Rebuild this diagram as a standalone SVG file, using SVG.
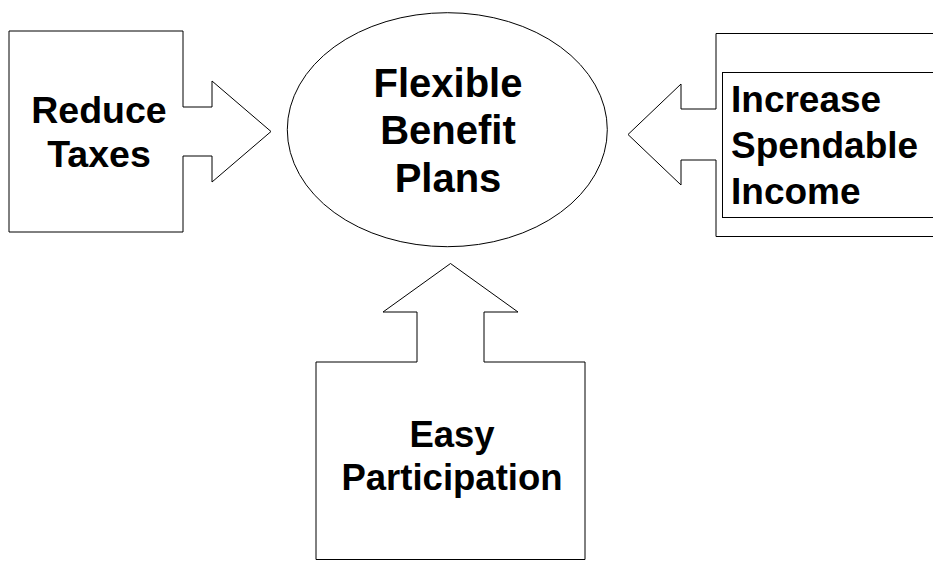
<svg xmlns="http://www.w3.org/2000/svg" width="933" height="567" viewBox="0 0 933 567">
<style>
.shape{fill:#fff;stroke:#000;stroke-width:1}
.lbl{font-family:"Liberation Sans",Arial,sans-serif;font-weight:bold;font-size:37px;fill:#000}
.c{text-anchor:middle}
.big{font-size:40px}
</style>
<rect x="0" y="0" width="933" height="567" fill="#fff"/>
<g id="connectors"></g>
<g id="reduce-taxes">
<path class="shape" d="M9,31 H183 V107 H212 V81 L271,131.5 L212,182 V156 H183 V232 H9 Z"/>
<text class="lbl c" x="99" y="123" style="font-size:37.5px">Reduce</text>
<text class="lbl c" x="99" y="167" style="font-size:37.5px">Taxes</text>
</g>
<g id="flexible-benefit-plans">
<ellipse class="shape" cx="447.3" cy="129.7" rx="160" ry="117"/>
<text class="lbl big c" x="448" y="97">Flexible</text>
<text class="lbl big c" x="448" y="144">Benefit</text>
<text class="lbl big c" x="448" y="191.5">Plans</text>
</g>
<g id="increase-spendable-income">
<path class="shape" d="M716,33.5 H945 V236.5 H716 V160 H681 V185 L628,134.5 L681,84 V109 H716 Z"/>
<rect class="shape" x="722.5" y="72.5" width="222" height="145"/>
<text class="lbl" x="731" y="112">Increase</text>
<text class="lbl" x="731" y="158">Spendable</text>
<text class="lbl" x="731" y="204">Income</text>
</g>
<g id="easy-participation">
<path class="shape" d="M316,362 H417 V312 H383 L450.5,263.5 L518,312 H484 V362 H585 V559.5 H316 Z"/>
<text class="lbl c" x="452" y="446.5" style="font-size:36.5px">Easy</text>
<text class="lbl c" x="452" y="490" style="font-size:36.5px">Participation</text>
</g>
</svg>
